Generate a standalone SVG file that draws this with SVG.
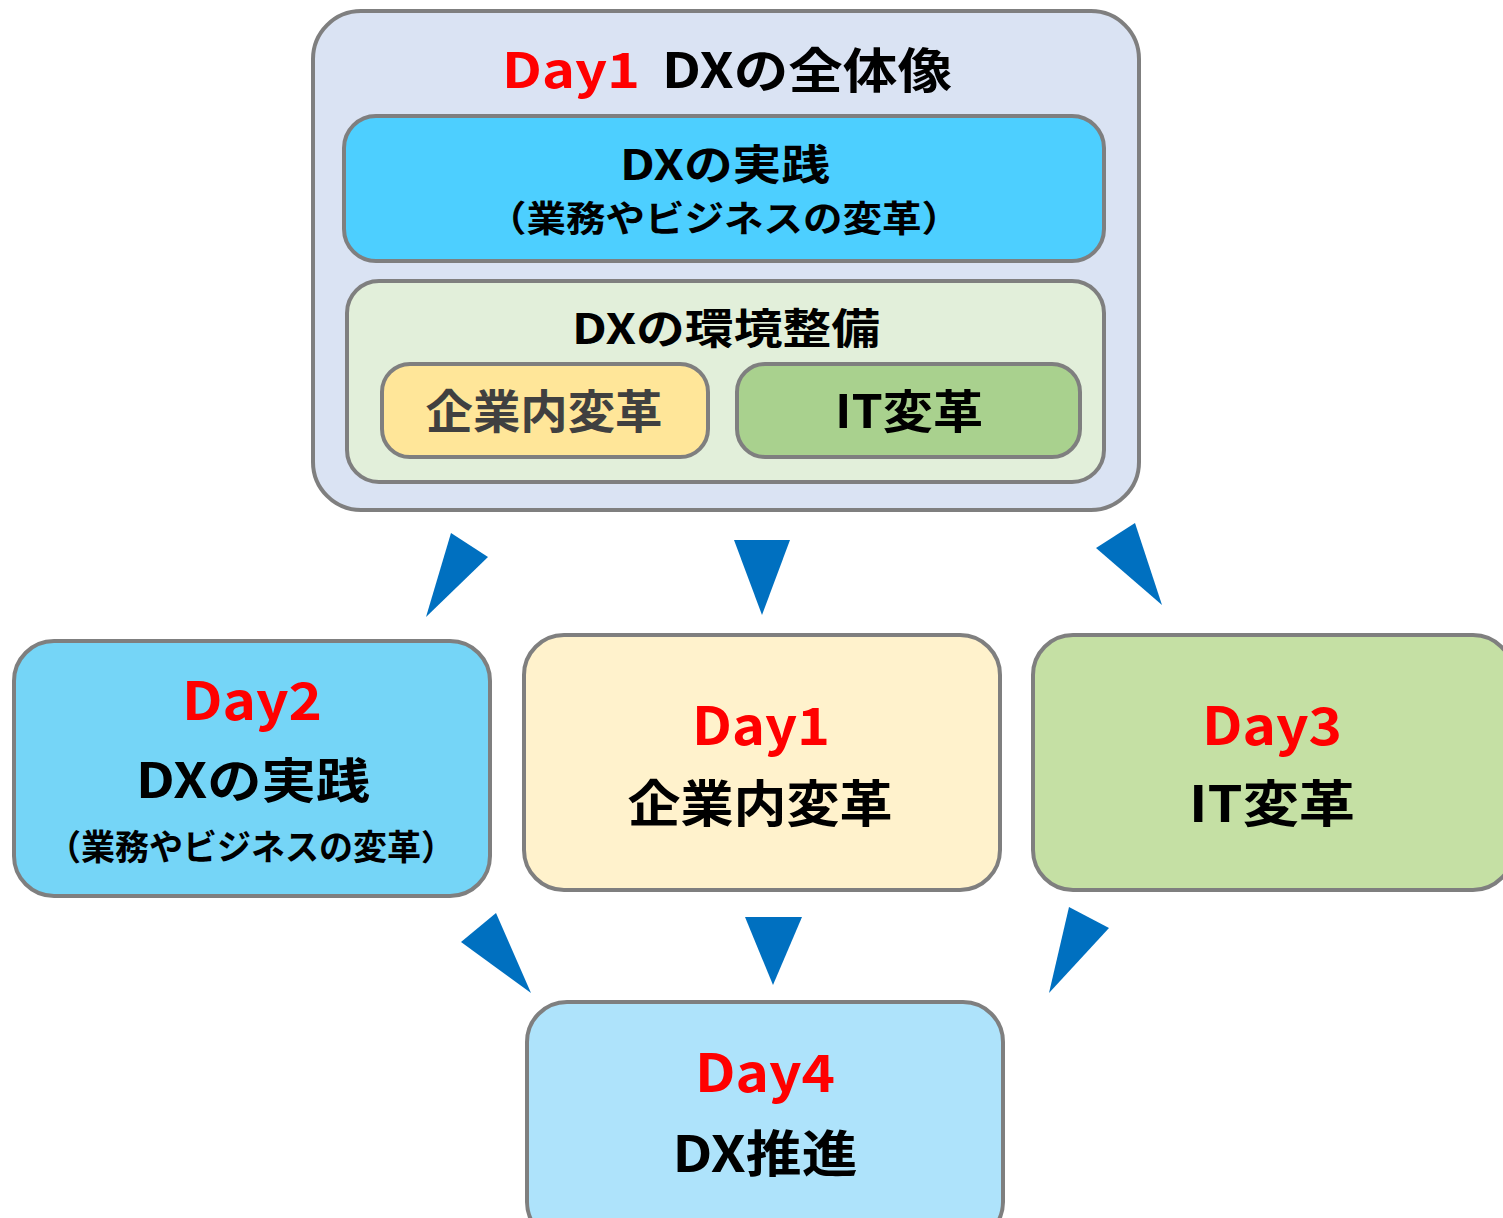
<svg xmlns="http://www.w3.org/2000/svg" width="1503" height="1218" viewBox="0 0 1503 1218">
<style>
.box{stroke:#7f7f7f;stroke-width:4}
text{font-family:"Noto Sans CJK JP","Noto Sans",sans-serif;font-weight:bold;text-anchor:middle}
.red{fill:#ff0000}
.blk{fill:#000}
.arr{fill:#0070c0}
</style>
<rect width="1503" height="1218" fill="#ffffff"/>
<g id="overview">
<rect class="box" x="313" y="11" width="826" height="499" rx="48" fill="#dae3f3"/>
<text x="571" y="88" font-size="48" class="red" textLength="138" lengthAdjust="spacingAndGlyphs">Day1</text>
<text x="807" y="88" font-size="48" class="blk" textLength="290" lengthAdjust="spacingAndGlyphs">DXの全体像</text>
</g>
<g id="practice-top">
<rect class="box" x="344" y="116" width="760" height="145" rx="32" fill="#4dcfff"/>
<text x="725" y="180" font-size="42" class="blk" textLength="210" lengthAdjust="spacingAndGlyphs">DXの実践</text>
<text x="724" y="232" font-size="36" class="blk" textLength="474" lengthAdjust="spacingAndGlyphs">（業務やビジネスの変革）</text>
</g>
<g id="env-top">
<rect class="box" x="347" y="281" width="757" height="201" rx="32" fill="#e2efda"/>
<text x="726" y="344" font-size="42" class="blk" textLength="308" lengthAdjust="spacingAndGlyphs">DXの環境整備</text>
</g>
<g id="corp-top">
<rect class="box" x="382" y="364" width="326" height="93" rx="28" fill="#ffe699"/>
<text x="544" y="428" font-size="46" fill="#404040" textLength="237" lengthAdjust="spacingAndGlyphs">企業内変革</text>
</g>
<g id="it-top">
<rect class="box" x="737" y="364" width="343" height="93" rx="28" fill="#a9d18e"/>
<text x="909" y="428" font-size="46" class="blk" textLength="148" lengthAdjust="spacingAndGlyphs">IT変革</text>
</g>
<g id="day2">
<rect class="box" x="14" y="641" width="476" height="255" rx="40" fill="#75d5f7"/>
<text x="252" y="720" font-size="52" class="red" textLength="140" lengthAdjust="spacingAndGlyphs">Day2</text>
<text x="253" y="798" font-size="48" class="blk" textLength="234" lengthAdjust="spacingAndGlyphs">DXの実践</text>
<text x="251" y="860" font-size="35" class="blk" textLength="408" lengthAdjust="spacingAndGlyphs">（業務やビジネスの変革）</text>
</g>
<g id="day1">
<rect class="box" x="524" y="635" width="476" height="255" rx="40" fill="#fff2cc"/>
<text x="761" y="745" font-size="52" class="red" textLength="138" lengthAdjust="spacingAndGlyphs">Day1</text>
<text x="760" y="822" font-size="50" class="blk" textLength="265" lengthAdjust="spacingAndGlyphs">企業内変革</text>
</g>
<g id="day3">
<rect class="box" x="1033" y="635" width="480" height="255" rx="40" fill="#c5e0a4"/>
<text x="1272" y="745" font-size="52" class="red" textLength="140" lengthAdjust="spacingAndGlyphs">Day3</text>
<text x="1272" y="822" font-size="50" class="blk" textLength="166" lengthAdjust="spacingAndGlyphs">IT変革</text>
</g>
<g id="day4">
<rect class="box" x="527" y="1002" width="476" height="240" rx="40" fill="#aee3fb"/>
<text x="765" y="1092" font-size="52" class="red" textLength="140" lengthAdjust="spacingAndGlyphs">Day4</text>
<text x="765" y="1172" font-size="50" class="blk" textLength="185" lengthAdjust="spacingAndGlyphs">DX推進</text>
</g>
<g id="connectors">
<polygon class="arr" points="451,533 488,557 426,617"/>
<polygon class="arr" points="734,540 790,540 762,615"/>
<polygon class="arr" points="1135,523 1096,548 1162,605"/>
<polygon class="arr" points="496,913 461,942 531,993"/>
<polygon class="arr" points="745,917 802,917 773,985"/>
<polygon class="arr" points="1069,907 1109,928 1049,993"/>
</g>
</svg>
